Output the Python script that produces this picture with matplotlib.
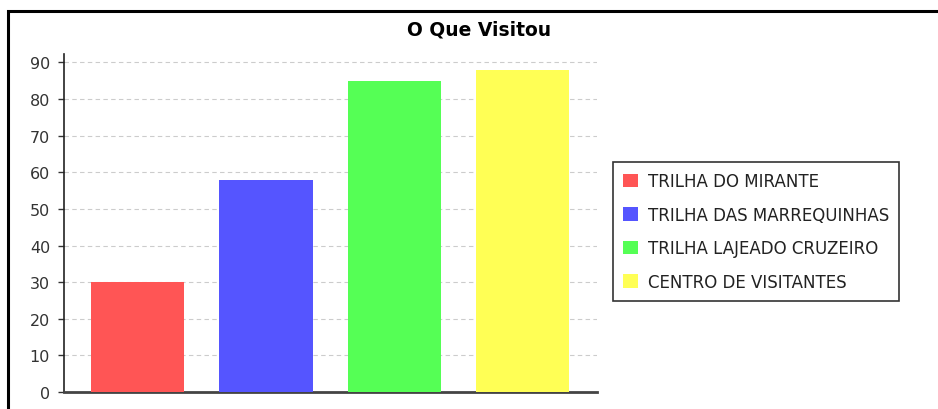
import numpy as np
import matplotlib.pyplot as plt
from matplotlib.patches import Rectangle, Patch

# dados
categorias = ["TRILHA DO MIRANTE", "TRILHA DAS MARREQUINHAS",
              "TRILHA LAJEADO CRUZEIRO", "CENTRO DE VISITANTES"]
valores = [30, 58, 85, 88]
cores = ["#ff5555", "#5555ff", "#55ff55", "#ffff55"]
yticks = [0, 10, 20, 30, 40, 50, 60, 70, 80, 90]

W, H = 938, 410
fig = plt.figure(figsize=(W/100, H/100), dpi=100)

# moldura externa
fig.patches.append(Rectangle((8/W, -0.2), 2.0, (H-12)/H + 0.2, transform=fig.transFigure,
                             fill=False, edgecolor="black", linewidth=2.2))

ax = fig.add_axes([64/W, (H-393)/H, (597-64)/W, (393-55)/H])
x = np.arange(len(valores))
ax.bar(x, valores, width=0.727, color=cores, zorder=3)

ax.set_xlim(-0.574, 3.58)
ax.set_ylim(0, 92.3)
ax.set_yticks(yticks)
ax.set_xticks([])
ax.tick_params(axis="y", length=4, width=1, labelsize=11.5, pad=6, colors="#333333")
ax.grid(axis="y", linestyle=(0, (4, 3)), color="#cccccc", linewidth=0.8, zorder=0)

for s in ["top", "right"]:
    ax.spines[s].set_visible(False)
ax.spines["left"].set_color("#222222")
ax.spines["left"].set_linewidth(1.2)
ax.spines["bottom"].set_color("#444444")
ax.spines["bottom"].set_linewidth(2)

fig.text(479/W, 1 - 30/H, "O Que Visitou", ha="center", va="center",
         fontsize=13.5, fontweight="bold")

handles = [Patch(facecolor=c, edgecolor="none") for c in cores]
leg = fig.legend(handles, categorias, loc="upper left", bbox_to_anchor=(613/W, 1 - 163/H),
                 frameon=True, fancybox=False, fontsize=12, handlelength=0.85,
                 handleheight=0.85, handletextpad=0.6, labelspacing=0.93,
                 borderpad=0.62, borderaxespad=0)
leg.get_frame().set_edgecolor("black")
leg.get_frame().set_linewidth(1.2)
for t in leg.get_texts():
    t.set_color("#222222")

fig.savefig("out.png", dpi=100)
